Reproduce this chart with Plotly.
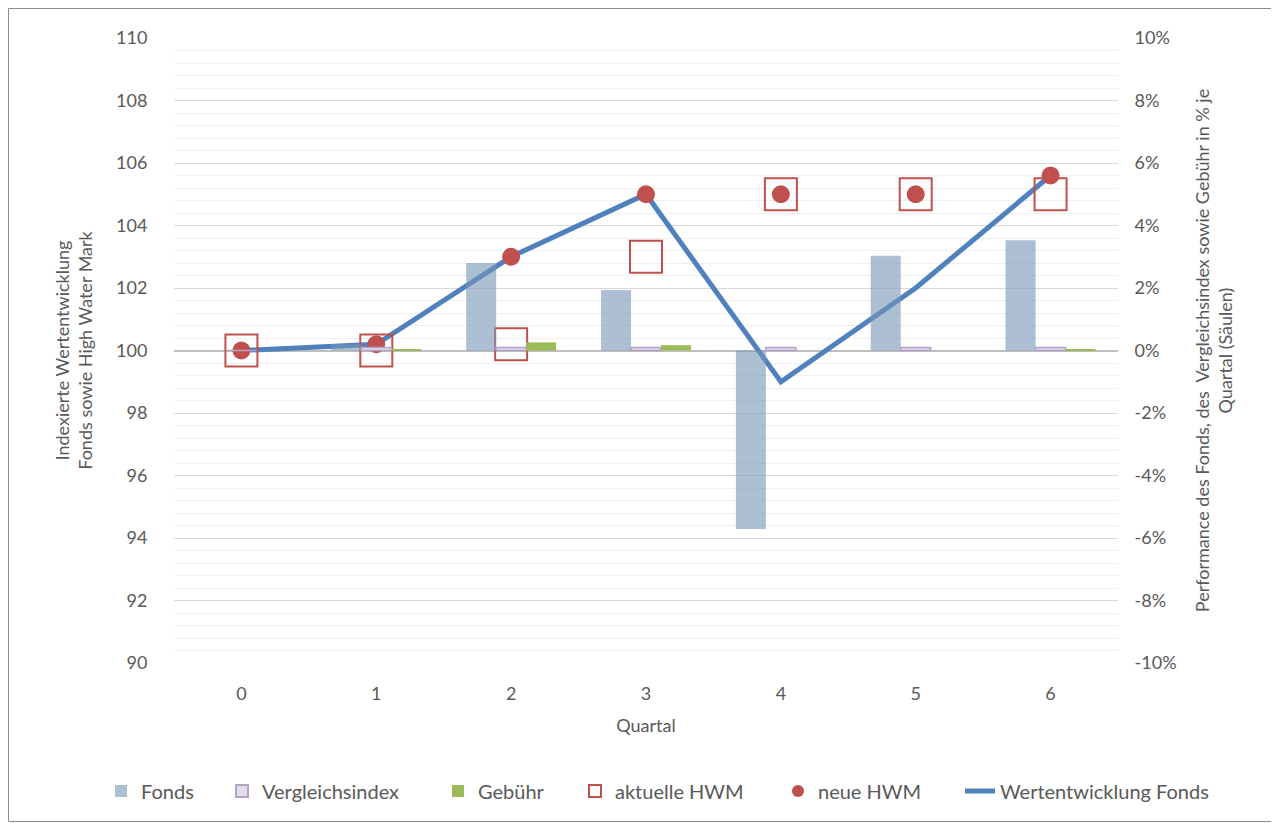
import plotly.graph_objects as go

quartale = [0, 1, 2, 3, 4, 5, 6]
tick_labels = ["0", "1", "2", "3", "4", "5", "6"]
left_ticks = [90, 92, 94, 96, 98, 100, 102, 104, 106, 108, 110]
right_ticks = [-10, -8, -6, -4, -2, 0, 2, 4, 6, 8, 10]
right_tick_labels = ["-10%", "-8%", "-6%", "-4%", "-2%", "0%", "2%", "4%", "6%", "8%", "10%"]

fonds_pct = [0.0, 0.2, 2.8, 1.94, -5.71, 3.03, 3.53]
vergleich_pct = [0.0, 0.1, 0.1, 0.1, 0.1, 0.1, 0.1]
gebuehr_pct = [0.0, 0.02, 0.26, 0.17, 0.0, 0.0, 0.03]

aktuelle_hwm = [100.0, 100.0, 100.2, 103.0, 105.0, 105.0, 105.0]
neue_hwm = [100.0, 100.2, 103.0, 105.0, 105.0, 105.0, 105.6]
wertentwicklung = [100.0, 100.2, 103.0, 105.0, 99.0, 102.0, 105.6]

FONT = "Lato"
TXT = "#595959"

fig = go.Figure()

fig.add_trace(go.Bar(x=quartale, y=fonds_pct, name="Fonds", yaxis="y2", legend="legend",
                     marker=dict(color="rgba(118,148,182,0.6)", line=dict(width=0))))
fig.add_trace(go.Bar(x=quartale, y=vergleich_pct, name="Vergleichsindex", yaxis="y2", legend="legend2",
                     marker=dict(color="#e2dcec", line=dict(color="#b3a2c7", width=1.5))))
fig.add_trace(go.Bar(x=quartale, y=gebuehr_pct, name="Gebühr", yaxis="y2", legend="legend3",
                     marker=dict(color="#9bbb59", line=dict(width=0))))

fig.add_trace(go.Scatter(x=quartale, y=wertentwicklung, name="Wertentwicklung Fonds", legend="legend6",
                         mode="lines", line=dict(color="#4f81bd", width=5)))
fig.add_trace(go.Scatter(x=quartale, y=aktuelle_hwm, name="aktuelle HWM", mode="markers", legend="legend4",
                         marker=dict(symbol="square-open", size=32, color="#c0504d",
                                     line=dict(width=2, color="#c0504d"))))
fig.add_trace(go.Scatter(x=quartale, y=neue_hwm, name="neue HWM", mode="markers", legend="legend5",
                         marker=dict(symbol="circle", size=18, color="#c0504d")))

# outer chart frame
fig.add_shape(type="rect", xref="paper", yref="paper",
              x0=(8.5 - 174) / 944, x1=(1277.5 - 174) / 944,
              y0=(663 - 821.5) / 625, y1=(663 - 8.5) / 625,
              line=dict(color="#8c8c8c", width=1), fillcolor="rgba(0,0,0,0)", layer="below")

LEG_Y = 1 - 783 / 823
text_starts = [143, 264, 480, 617, 820, 1002]   # screen x of legend text starts (target)


def legend_cfg(tx, iw=30):
    return dict(orientation="h", xref="container", yref="container",
                x=(tx - 50) / 1279, xanchor="left", y=LEG_Y, yanchor="middle",
                bgcolor="rgba(0,0,0,0)", font=dict(size=20, color=TXT),
                itemsizing="constant", itemwidth=iw)


fig.update_layout(
    width=1279, height=823,
    margin=dict(l=166, r=169, t=30, b=168),
    paper_bgcolor="white", plot_bgcolor="white",
    font=dict(family=FONT, color=TXT, size=18),
    barmode="group", bargap=1/3, bargroupgap=0,
    showlegend=True,
    legend=legend_cfg(text_starts[0]),
    legend2=legend_cfg(text_starts[1]),
    legend3=legend_cfg(text_starts[2]),
    legend4=legend_cfg(text_starts[3]),
    legend5=legend_cfg(text_starts[4]),
    legend6=legend_cfg(text_starts[5]),
    xaxis=dict(range=[-0.5, 6.5], tickmode="array", tickvals=quartale, ticktext=tick_labels,
               showgrid=False, zeroline=False, showline=False,
               ticks="outside", ticklen=14, tickcolor="rgba(0,0,0,0)",
               title=dict(text="Quartal", standoff=16, font=dict(size=18, color=TXT))),
    yaxis=dict(range=[90, 110], tickmode="array", tickvals=left_ticks,
               showgrid=True, gridcolor="#d9d9d9", gridwidth=1,
               minor=dict(dtick=0.4, showgrid=True, gridcolor="#efefef", gridwidth=1),
               zeroline=False, showline=False,
               ticks="outside", ticklen=22, tickcolor="rgba(0,0,0,0)",
               title=dict(text="Indexierte Wertentwicklung<br>Fonds sowie High Water Mark",
                          standoff=18, font=dict(size=18, color=TXT))),
    yaxis2=dict(range=[-10, 10], tickmode="array", tickvals=right_ticks, ticktext=right_tick_labels,
                overlaying="y", side="right", showgrid=False,
                zeroline=True, zerolinecolor="#bfbfbf", zerolinewidth=1.5, showline=False,
                ticks="outside", ticklen=12, tickcolor="rgba(0,0,0,0)",
                title=dict(text="Performance des Fonds, des  Vergleichsindex sowie Gebühr in % je<br>Quartal (Säulen)",
                           standoff=20, font=dict(size=18, color=TXT))),
)

fig.write_html("out.html")
